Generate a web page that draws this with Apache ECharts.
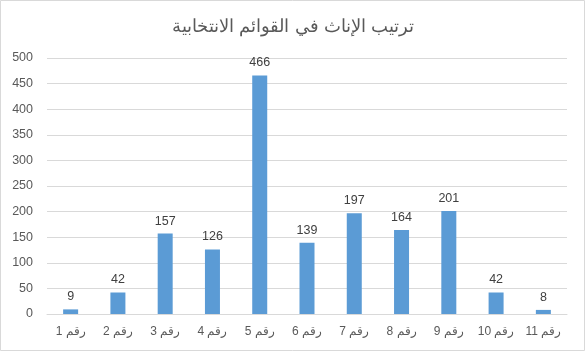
<!DOCTYPE html>
<html><head><meta charset="utf-8">
<script src="https://cdn.jsdelivr.net/npm/echarts@6/dist/echarts.min.js"></script>
<style>html,body{margin:0;padding:0;background:#fff}#c{width:586px;height:352px}</style>
</head><body><div id="c"></div>
<script>
const titleText = "ترتيب الإناث في القوائم الانتخابية";
const categories = ["رقم 1","رقم 2","رقم 3","رقم 4","رقم 5","رقم 6","رقم 7","رقم 8","رقم 9","رقم 10","رقم 11"];
const values = [9,42,157,126,466,139,197,164,201,42,8];
const yTicks = {min:0,max:500,interval:50};

const chart = echarts.init(document.getElementById('c'));
chart.setOption({
  animation:false,
  backgroundColor:'#fff',
  graphic:[{type:'rect',shape:{x:0.5,y:0.5,width:584,height:350},style:{fill:'none',stroke:'#d9d9d9',lineWidth:1},silent:true}],
  title:{text:titleText,left:'center',top:13,textStyle:{fontFamily:'Liberation Sans, Arial, sans-serif',fontSize:18,fontWeight:'normal',color:'#595959'}},
  grid:{left:47,right:19,top:58,bottom:38,containLabel:false},
  xAxis:{type:'category',data:categories,
    axisLine:{lineStyle:{color:'#d9d9d9'}},axisTick:{show:false},
    axisLabel:{color:'#595959',fontFamily:'Liberation Sans, Arial, sans-serif',fontSize:12,margin:12,interval:0}},
  yAxis:{type:'value',min:yTicks.min,max:yTicks.max,interval:yTicks.interval,
    axisLine:{show:false},axisTick:{show:false},
    splitLine:{lineStyle:{color:'#d9d9d9'}},
    axisLabel:{color:'#595959',fontFamily:'Liberation Sans, Arial, sans-serif',fontSize:12.5,margin:14}},
  series:[{type:'bar',data:values,barWidth:15,itemStyle:{color:'#5b9bd5'},
    label:{show:true,position:'top',color:'#404040',fontFamily:'Liberation Sans, Arial, sans-serif',fontSize:12.5,distance:6}}]
});
</script></body></html>
